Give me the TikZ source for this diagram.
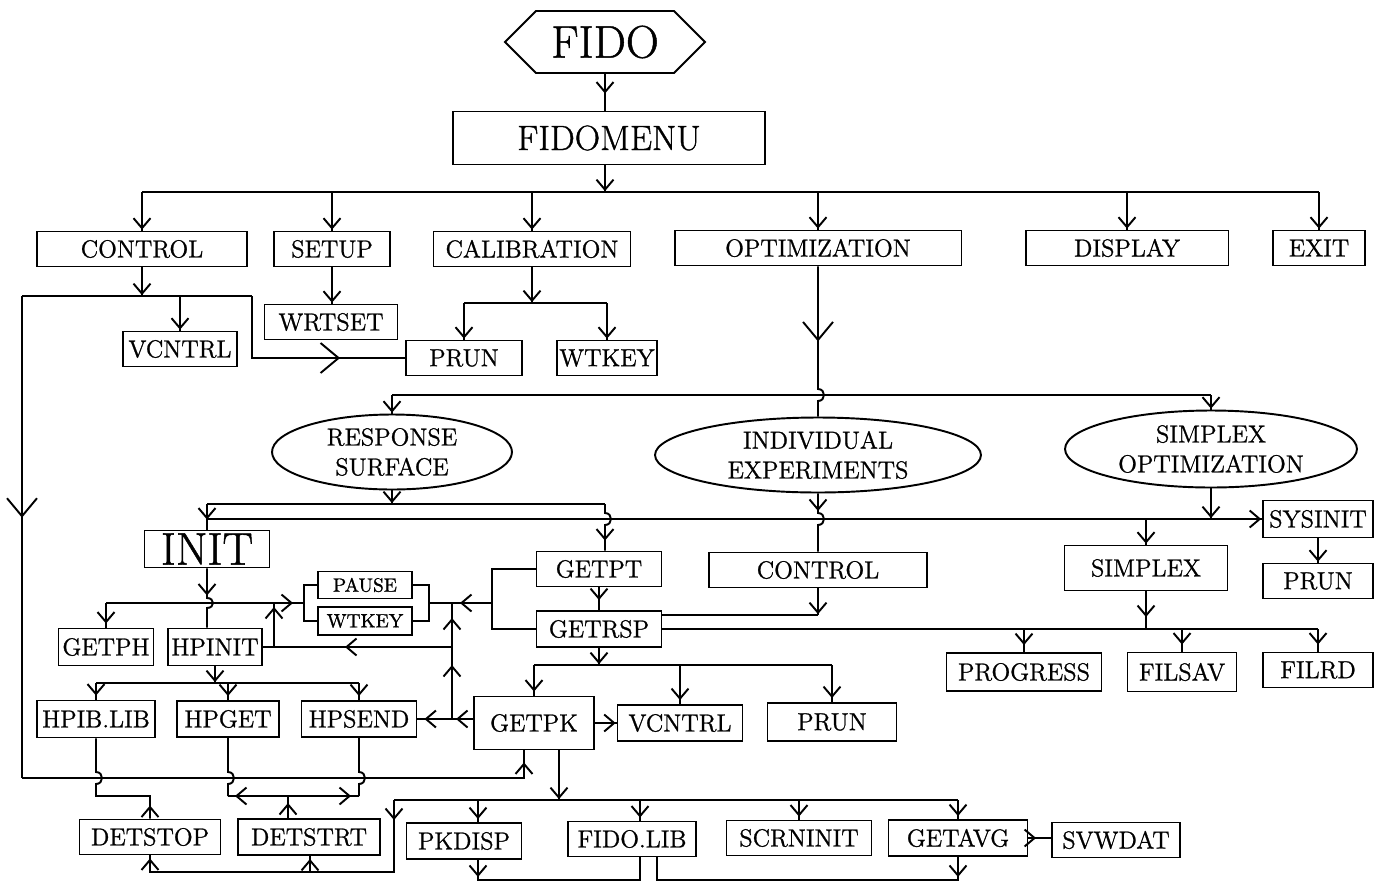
\documentclass[tikz,border=0pt]{standalone}
\usepackage{fontspec}
\setmainfont{Latin Modern Roman}[FakeBold=1]
\usepackage{tikz}
\usetikzlibrary{arrows.meta,positioning,decorations.markings,shapes.geometric,shapes.symbols}

\tikzset{
  box/.style={draw, rectangle, inner sep=1pt, minimum height=0.7cm, font=\fontsize{14}{16}\selectfont},
  oval/.style={draw, ellipse, inner sep=0pt, align=center, font=\fontsize{14}{17}\selectfont},
  arrowat/.style={postaction={decorate, decoration={markings,
      mark=at position #1 with {\arrow{Straight Barb[length=2mm, width=3.4mm]}}}}},
  arrowat/.default=-0.5pt,
  bigarrowat/.style={postaction={decorate, decoration={markings,
      mark=at position #1 with {\arrow{Straight Barb[length=3.6mm, width=6mm]}}}}},
}

\begin{document}
\begin{tikzpicture}[x=0.02cm, y=-0.02cm, line width=1.1pt]
    \useasboundingbox (0,0) rectangle (1379,883);

    % Top
    \node[draw, signal, signal to=west and east, signal pointer angle=90, minimum width=4cm,
          minimum height=1.24cm, inner sep=1pt, font=\fontsize{26}{28}\selectfont] (fido) at (605,42) {FIDO};
    \node[box, minimum width=6.24cm, minimum height=1.06cm, font=\fontsize{20}{22}\selectfont] (menu) at (609,138) {FIDOMENU};

    % Menu entries
    \node[box, minimum width=4.2cm] (ctrl) at (142,249) {CONTROL};
    \node[box, minimum width=2.32cm] (setup) at (332,249) {SETUP};
    \node[box, minimum width=3.94cm] (calib) at (532,249) {CALIBRATION};
    \node[box, minimum width=5.74cm] (optim) at (818,248) {OPTIMIZATION};
    \node[box, minimum width=4.06cm] (disp) at (1127,248) {DISPLAY};
    \node[box, minimum width=1.84cm] (exit) at (1319,248) {EXIT};

    \node[box, minimum width=2.66cm] (wrtset) at (331,322) {WRTSET};
    \node[box, minimum width=2.28cm] (vcntrlA) at (180,349) {VCNTRL};
    \node[box, minimum width=2.32cm] (prunA) at (464,358) {PRUN};
    \node[box, minimum width=2cm] (wtkeyA) at (607,358) {WTKEY};

    % Optimization methods
    \node[oval, minimum width=4.8cm, minimum height=1.5cm] (resp) at (392,452) {RESPONSE\\SURFACE};
    \node[oval, minimum width=6.52cm, minimum height=1.5cm] (indiv) at (818,455) {INDIVIDUAL\\EXPERIMENTS};
    \node[oval, minimum width=5.84cm, minimum height=1.54cm] (simopt) at (1211,449) {SIMPLEX\\OPTIMIZATION};

    % Routines
    \node[box, minimum width=2.5cm, minimum height=0.74cm, inner sep=0pt, font=\fontsize{26}{28}\selectfont] (init) at (207,549) {INIT};
    \node[box, minimum width=2.5cm] (getpt) at (599,569) {GETPT};
    \node[box, minimum width=4.36cm] (ctrlB) at (818,570) {CONTROL};
    \node[box, minimum width=3.26cm, minimum height=0.9cm] (simplex) at (1146,568) {SIMPLEX};
    \node[box, minimum width=2.2cm, minimum height=0.74cm] (sysinit) at (1318,519) {SYSINIT};
    \node[box, minimum width=2.2cm] (prunC) at (1318,581) {PRUN};
    \node[box, minimum width=1.88cm, minimum height=0.54cm, font=\fontsize{11}{12}\selectfont] (pause) at (365,585) {PAUSE};
    \node[box, minimum width=1.88cm, minimum height=0.56cm, font=\fontsize{11}{12}\selectfont] (wtkeyB) at (365,621) {WTKEY};
    \node[box, minimum width=2.5cm, minimum height=0.72cm] (getrsp) at (599,629) {GETRSP};
    \node[box, minimum width=1.9cm, minimum height=0.74cm] (getph) at (106,647) {GETPH};
    \node[box, minimum width=1.88cm, minimum height=0.74cm] (hpinit) at (215,647) {HPINIT};
    \node[box, minimum width=2.36cm, minimum height=0.74cm] (hpib) at (96,719) {HPIB.LIB};
    \node[box, minimum width=2.04cm, minimum height=0.72cm] (hpget) at (228,719) {HPGET};
    \node[box, minimum width=2.3cm, minimum height=0.72cm] (hpsend) at (359,719) {HPSEND};
    \node[box, minimum width=2.4cm, minimum height=1.06cm] (getpk) at (534,723) {GETPK};
    \node[box, minimum width=2.5cm, minimum height=0.72cm] (vcntrlB) at (680,723) {VCNTRL};
    \node[box, minimum width=2.58cm, minimum height=0.76cm] (prunB) at (832,722) {PRUN};
    \node[box, minimum width=3.1cm, minimum height=0.76cm] (progress) at (1024,672) {PROGRESS};
    \node[box, minimum width=2.18cm, minimum height=0.78cm] (filsav) at (1182,672) {FILSAV};
    \node[box, minimum width=2.2cm] (filrd) at (1318,670) {FILRD};

    % Bottom row
    \node[box, minimum width=2.82cm] (detstop) at (150,837) {DETSTOP};
    \node[box, minimum width=2.84cm, minimum height=0.72cm] (detstrt) at (309,837) {DETSTRT};
    \node[box, minimum width=2.3cm, minimum height=0.72cm] (pkdisp) at (464,841) {PKDISP};
    \node[box, minimum width=2.56cm] (fidolib) at (632,839) {FIDO.LIB};
    \node[box, minimum width=2.9cm] (scrninit) at (799,838) {SCRNINIT};
    \node[box, minimum width=2.78cm, minimum height=0.72cm] (getavg) at (958,838) {GETAVG};
    \node[box, minimum width=2.56cm] (svwdat) at (1116,840) {SVWDAT};

    % Junction points
    \coordinate (brL) at (304,603);
    \coordinate (brR) at (429,603);
    \coordinate (brG) at (492,603);
    \coordinate (jA) at (274,647);
    \coordinate (jB) at (452,647);
    \coordinate (jC) at (452,719);
    \coordinate (jD) at (452,603);
    \coordinate (dL) at (228,796);
    \coordinate (dR) at (359,796);
    \coordinate (lb) at (394,800);

    % Main menu
    \draw[arrowat=-0.34cm] (fido.south) -- (fido.south |- menu.north);
    \draw[arrowat] (fido.south |- menu.south) -- (fido.south |- 0,192);
    \draw (ctrl.north |- 0,192) -- (exit.north |- 0,192);
    \foreach \n in {ctrl,setup,calib,optim,disp,exit}
        \draw[arrowat] (\n.north |- 0,192) -- (\n.north);

    % Control
    \draw[arrowat] (ctrl.south) -- (ctrl.south |- 0,296);
    \draw (22,296) -- (252,296);
    \draw[arrowat] (vcntrlA.north |- 0,296) -- (vcntrlA.north);
    \draw[bigarrowat=-1.3cm] (252,296) |- (prunA.west);
    \draw[bigarrowat=0.46] (22,296) -- (22,778);
    \draw[arrowat=-0.24cm] (22,778) -| ([xshift=-0.2cm]getpk.south);

    % Setup and calibration
    \draw[arrowat] (setup.south) -- (setup.south |- wrtset.north);
    \draw[arrowat] (calib.south) -- (calib.south |- 0,303);
    \draw (prunA.north |- 0,303) -- (wtkeyA.north |- 0,303);
    \draw[arrowat] (prunA.north |- 0,303) -- (prunA.north);
    \draw[arrowat] (wtkeyA.north |- 0,303) -- (wtkeyA.north);

    % Optimization
    \draw[bigarrowat=1.5cm] (optim.south) -- (818,389) .. controls +(8,0) and +(8,0) .. (818,401) -- (indiv.north);
    \draw (resp.north |- 0,395) -- (simopt.north |- 0,395);
    \draw[arrowat] (resp.north |- 0,395) -- (resp.north);
    \draw[arrowat] (simopt.north |- 0,395) -- (simopt.north);

    % Response surface
    \draw[arrowat] (resp.south) -- (resp.south |- 0,504);
    \draw (init.north |- 0,504) -- ([xshift=0.12cm]getpt.north |- 0,504);
    \draw[arrowat=-0.2cm] (init.north |- 0,504) -- (init.north);
    \draw[arrowat=-0.2cm] ([xshift=0.12cm]getpt.north |- 0,504) -- ([xshift=0.12cm]getpt.north |- 0,513)
        .. controls +(8,0) and +(8,0) .. ([xshift=0.12cm]getpt.north |- 0,525) -- ([xshift=0.12cm]getpt.north);

    % Simplex optimization
    \draw[arrowat] (simopt.south) -- (simopt.south |- 0,519);
    \draw[arrowat] (init.north |- 0,519) -- (sysinit.west);
    \draw[arrowat] (simplex.north |- 0,519) -- (simplex.north);
    \draw[arrowat] (sysinit) -- (prunC);
    \draw[arrowat=-0.24cm] (simplex.south) -- (simplex.south |- getrsp.east);
    \draw (getrsp.east) -- (filrd.north |- getrsp.east);
    \foreach \n in {progress,filsav,filrd}
        \draw[arrowat=-0.14cm] (\n.north |- getrsp.east) -- (\n.north);

    % Individual experiments
    \draw[arrowat=0.35cm] (indiv.south) -- (818,513) .. controls +(8,0) and +(8,0) .. (818,525) -- (ctrlB.north);
    \draw[arrowat] (ctrlB.south) -- (ctrlB.south |- 0,615);
    \draw (ctrlB.south |- 0,615) -- (getrsp.east |- 0,615);

    % GETPT / GETRSP
    \draw[arrowat=-0.2cm] (getpt) -- (getrsp);
    \draw (getpt.west) -| (brG) |- (getrsp.west);
    \draw[arrowat=0.64cm] (brG) -- (brR);
    \draw (pause.west) -| (brL) |- (wtkeyB.west);
    \draw (pause.east) -| (brR) |- (wtkeyB.east);
    \draw[arrowat=1.08cm] (jC) -- (jB);
    \draw[arrowat=0.58cm] (jB) -- (jD);
    \draw[arrowat=2.14cm] (jB) -- (hpinit.east);
    \draw[arrowat=-0.08cm] (jA) -- (jA |- brL);
    \draw[arrowat=0.34cm, arrowat=-0.14cm] (getpk.west |- hpsend.east) -- (hpsend.east);

    % INIT
    \draw[arrowat=-0.22cm] (getph.north |- brL) -- (brL);
    \draw[arrowat=-0.08cm] (getph.north |- brL) -- (getph.north);
    \draw[arrowat=0.54cm] (init.south) -- (init.south |- 0,598)
        .. controls +(8,0) and +(8,0) .. (init.south |- 0,608) -- (init.south |- hpinit.north);
    \draw[arrowat] (hpinit.south) -- (hpinit.south |- 0,683);
    \draw (hpib.north |- 0,683) -- (hpsend.north |- 0,683);
    \foreach \n in {hpib,hpget,hpsend}
        \draw[arrowat=-0.08cm] (\n.north |- 0,683) -- (\n.north);

    % GETRSP
    \draw[arrowat] (getrsp.south) -- (getrsp.south |- 0,665);
    \draw (getpk.north |- 0,665) -- (prunB.north |- 0,665);
    \foreach \n in {getpk,vcntrlB,prunB}
        \draw[arrowat=-0.08cm] (\n.north |- 0,665) -- (\n.north);
    \draw[arrowat] (getpk.east |- vcntrlB.west) -- (vcntrlB.west);

    % Detector
    \draw[arrowat=0.26cm] (detstop.north) |- (hpib.south |- 0,796) -- (hpib.south |- 0,784)
        .. controls +(8,0) and +(8,0) .. (hpib.south |- 0,772) -- (hpib.south);
    \draw (hpget.south) -- (hpget.south |- 0,772) .. controls +(8,0) and +(8,0) .. (hpget.south |- 0,784) -- (dL);
    \draw (hpsend.south) -- (hpsend.south |- 0,772) .. controls +(8,0) and +(8,0) .. (hpsend.south |- 0,784) -- (dR);
    \draw[arrowat=-0.14cm] ([xshift=-0.42cm]detstrt.north |- dL) -- (dL);
    \draw[arrowat=-0.16cm] ([xshift=-0.42cm]detstrt.north |- dL) -- (dR);
    \draw[arrowat=0.3cm] ([xshift=-0.42cm]detstrt.north) -- ([xshift=-0.42cm]detstrt.north |- dL);

    % GETPK
    \draw[arrowat] ([xshift=0.5cm]getpk.south) -- ([xshift=0.5cm]getpk.south |- lb);
    \draw (lb) -- (getavg.north |- lb);
    \draw[arrowat=-0.06cm] ([xshift=0.28cm]pkdisp.north |- lb) -- ([xshift=0.28cm]pkdisp.north);
    \draw[arrowat=-0.06cm] ([xshift=0.16cm]fidolib.north |- lb) -- ([xshift=0.16cm]fidolib.north);
    \draw[arrowat=-0.06cm] (scrninit.north |- lb) -- (scrninit.north);
    \draw[arrowat=-0.06cm] (getavg.north |- lb) -- (getavg.north);
    \draw[arrowat=0.4cm, arrowat=-0.06cm] (lb) |- (detstop.south |- 0,872) -- (detstop.south);
    \draw[arrowat=-0.06cm] ([xshift=0.02cm]detstrt.south |- 0,872) -- ([xshift=0.02cm]detstrt.south);
    \draw[arrowat=0.34cm] ([xshift=0.28cm]pkdisp.south) |- ([xshift=0.16cm]fidolib.south |- 0,880) -- ([xshift=0.16cm]fidolib.south);
    \draw[arrowat=0.4cm] (getavg.south) |- ([xshift=0.5cm]fidolib.south |- 0,880) -- ([xshift=0.5cm]fidolib.south);
    \draw[arrowat=-0.3cm] (getavg.east) -- (getavg.east -| svwdat.west);
\end{tikzpicture}
\end{document}
